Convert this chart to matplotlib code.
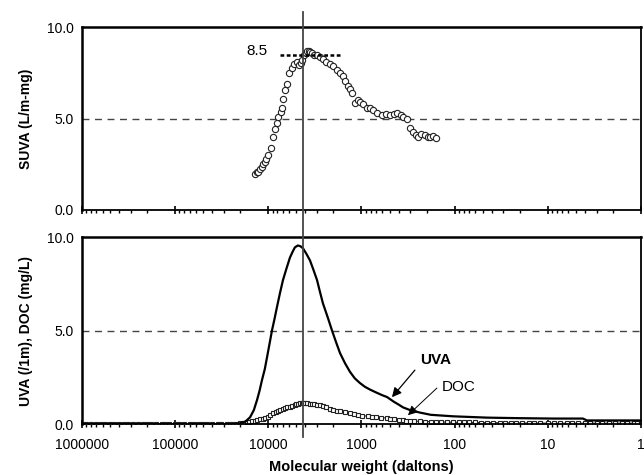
import numpy as np
import matplotlib
matplotlib.use('Agg')
import matplotlib.pyplot as plt
from matplotlib.lines import Line2D
from matplotlib.ticker import FixedLocator, LogLocator, NullFormatter
import matplotlib.transforms as mtransforms

plt.rcParams['font.family'] = ['Liberation Sans', 'DejaVu Sans']

# SUVA (L/m-mg) vs molecular weight
suva_mw = [13900, 13300, 12900, 12300, 11700, 11300, 10900, 10500, 10100, 9380,
           8920, 8490, 8080, 7880, 7310, 7130, 6960, 6620, 6310, 6000,
           5570, 5310, 4920, 4690, 4500, 4350, 4140, 3980, 3850, 3700,
           3570, 3400, 3200, 3000, 2790, 2600, 2400, 2180, 2000, 1830,
           1700, 1580, 1490, 1400, 1330, 1260, 1170, 1100, 1040, 960,
           873, 810, 753, 680, 603, 550, 494, 450, 416, 380,
           359, 325, 302, 280, 262, 248, 228, 208, 195, 184, 170, 158]
suva = [1.95, 2.05, 2.1, 2.25, 2.35, 2.5, 2.6, 2.8, 3.0, 3.4,
        4.0, 4.4, 4.75, 5.1, 5.35, 5.6, 6.05, 6.55, 6.9, 7.5,
        7.75, 8.0, 8.1, 7.9, 8.05, 8.2, 8.5, 8.6, 8.7, 8.7,
        8.65, 8.6, 8.5, 8.45, 8.35, 8.25, 8.1, 8.0, 7.85, 7.65,
        7.5, 7.3, 7.05, 6.8, 6.6, 6.4, 5.85, 6.0, 5.9, 5.8,
        5.6, 5.55, 5.45, 5.3, 5.2, 5.25, 5.2, 5.25, 5.3, 5.2,
        5.1, 4.95, 4.5, 4.25, 4.1, 4.0, 4.15, 4.1, 4.0, 4.0, 4.05, 3.95]

# UVA (/1m)
uva_mw = [1000000, 300000, 100000, 40000, 24000, 20100, 17500, 15700, 14300, 13200,
          12400, 11700, 10900, 10300, 9700, 9140, 8600, 8080, 7500, 6960,
          6400, 5860, 5500, 5180, 4810, 4500, 4250, 3900, 3570, 3280,
          3000, 2800, 2590, 2300, 2070, 1880, 1700, 1500, 1330, 1180,
          1040, 920, 811, 700, 600, 532, 450, 400, 359, 300,
          236, 180, 104, 45, 20, 8.8, 4.2, 3.8, 1]
uva = [0, 0, 0, 0, 0, 0.05, 0.15, 0.37, 0.75, 1.3,
       1.8, 2.35, 2.95, 3.6, 4.3, 5.0, 5.6, 6.25, 7.0, 7.7,
       8.3, 8.9, 9.2, 9.45, 9.55, 9.5, 9.4, 9.1, 8.75, 8.25,
       7.7, 7.1, 6.45, 5.7, 5.0, 4.4, 3.8, 3.25, 2.8, 2.45,
       2.2, 2.0, 1.85, 1.7, 1.55, 1.45, 1.2, 1.05, 0.9, 0.75,
       0.62, 0.5, 0.42, 0.35, 0.32, 0.3, 0.3, 0.2, 0.2]

# DOC (mg/L)
doc_mw = [1000000, 900000, 800000, 700000, 630000, 560000, 500000, 450000, 400000, 350000,
          320000, 280000, 250000, 220000, 200000, 180000, 160000, 140000, 130000, 115000,
          100000, 90000, 80000, 70000, 63000, 56000, 50000, 45000, 40000, 35000,
          32000, 28000, 26000,
          23900, 22000, 20100, 18500, 17000, 16000, 15000, 14000, 13200, 12300,
          11500, 10800, 10200, 9500, 8920, 8300, 7800, 7400, 7000, 6600,
          6310, 5900, 5600, 5200, 5000, 4810, 4600, 4400, 4200, 4000,
          3800, 3570, 3400, 3200, 3000, 2790, 2600, 2400, 2200, 2020,
          1850, 1700, 1500, 1330, 1200, 1100, 980, 851, 780, 700,
          620, 532, 490, 450, 400, 359, 330, 300, 270, 236,
          210, 180, 160, 140, 120, 104, 90, 80, 70, 60,
          52, 45, 39, 33, 29, 25, 22, 19, 16, 14,
          12, 10, 8.5, 7.4, 6.3, 5.5, 4.7, 4, 3.5, 3,
          2.6, 2.2, 1.9, 1.6, 1.4, 1.2, 1.1, 1]
doc = [0, 0, 0, 0, 0, 0, 0, 0, 0, 0,
       0, 0, 0, 0, 0, 0, 0, 0, 0, 0,
       0, 0, 0, 0, 0, 0, 0, 0, 0, 0,
       0, 0, 0,
       0.02, 0.03, 0.05, 0.07, 0.1, 0.12, 0.15, 0.17, 0.2, 0.25,
       0.3, 0.35, 0.4, 0.5, 0.6, 0.65, 0.7, 0.75, 0.8, 0.85,
       0.9, 0.93, 0.97, 1.02, 1.06, 1.1, 1.11, 1.12, 1.12, 1.12,
       1.11, 1.1, 1.09, 1.07, 1.04, 1.0, 0.95, 0.9, 0.82, 0.75,
       0.71, 0.68, 0.64, 0.6, 0.55, 0.5, 0.46, 0.42, 0.4, 0.37,
       0.35, 0.33, 0.3, 0.28, 0.24, 0.2, 0.18, 0.17, 0.16, 0.15,
       0.14, 0.13, 0.125, 0.12, 0.11, 0.1, 0.1, 0.1, 0.095, 0.09,
       0.085, 0.08, 0.075, 0.07, 0.07, 0.07, 0.065, 0.06, 0.06, 0.06,
       0.055, 0.05, 0.05, 0.05, 0.05, 0.05, 0.05, 0.05, 0.05, 0.05,
       0.05, 0.05, 0.05, 0.05, 0.05, 0.05, 0.05, 0.05]
assert len(doc_mw) == len(doc) and len(uva_mw) == len(uva) and len(suva_mw) == len(suva)

peak_mw = 4200
suva_peak = 8.5
xticks = [1000000, 100000, 10000, 1000, 100, 10, 1]
xticklabels = ['1000000', '100000', '10000', '1000', '100', '10', '1']

fig = plt.figure(figsize=(6.44, 4.75), dpi=100)
ax1 = fig.add_axes([0.1273, 0.558, 0.868, 0.385])
ax2 = fig.add_axes([0.1273, 0.107, 0.868, 0.394])

for ax in (ax1, ax2):
    ax.set_xscale('log')
    ax.set_xlim(1000000, 1)
    ax.set_ylim(0, 10)
    ax.set_yticks([0, 5, 10])
    ax.set_yticklabels(['0.0', '5.0', '10.0'])
    ax.axhline(5, color='#444444', ls=(0, (5, 4)), lw=1.0)
    ax.xaxis.set_major_locator(FixedLocator(xticks))
    ax.xaxis.set_minor_locator(LogLocator(base=10, subs=np.arange(2, 10), numticks=20))
    ax.xaxis.set_minor_formatter(NullFormatter())
    ax.tick_params(axis='x', which='major', direction='inout', length=6, width=1.2, pad=7)
    ax.tick_params(axis='x', which='minor', direction='out', length=2.5, width=1)
    ax.tick_params(axis='y', direction='in', length=0, labelsize=10, pad=6)
    ax.tick_params(axis='x', labelsize=10)
    for s in ax.spines.values():
        s.set_linewidth(1.3)
    ax.spines['left'].set_linewidth(1.8)
    ax.spines['top'].set_linewidth(1.8)

ax1.tick_params(axis='x', labelbottom=False)
ax2.set_xticklabels(xticklabels)

# top panel
ax1.plot(suva_mw, suva, 'o', ms=4.5, mfc='white', mec='#222222', mew=0.8)
ax1.plot([7400, 1700], [suva_peak, suva_peak], color='black', ls=(0, (1.5, 1)), lw=1.8)
ax1.text(10100, suva_peak + 0.2, '8.5', ha='right', va='center', fontsize=11)
ax1.set_ylabel('SUVA (L/m-mg)', fontsize=10, fontweight='bold', labelpad=10)

# bottom panel
ax2.plot(doc_mw, doc, 's-', ms=3.2, mfc='white', mec='#222222', mew=0.8, color='#222222', lw=0.8)
ax2.plot(uva_mw, uva, color='black', lw=1.6)
ax2.text(236, 3.45, 'UVA', fontsize=11, fontweight='bold', va='center', ha='left')
ax2.text(137, 2.0, 'DOC', fontsize=11, va='center', ha='left')
ax2.annotate('', xy=(471, 1.44), xytext=(267, 2.89),
             arrowprops=dict(arrowstyle='-|>', color='black', lw=0.9, mutation_scale=14,
                             shrinkA=0, shrinkB=0))
ax2.annotate('', xy=(317, 0.48), xytext=(155, 1.93),
             arrowprops=dict(arrowstyle='-|>', color='black', lw=0.7, mutation_scale=14,
                             shrinkA=0, shrinkB=0))
ax2.set_ylabel('UVA (/1m), DOC (mg/L)', fontsize=10, fontweight='bold', labelpad=10)
ax2.set_xlabel('Molecular weight (daltons)', fontsize=10.5, fontweight='bold', labelpad=6)

# vertical line through both panels at peak
trans = mtransforms.blended_transform_factory(ax2.transData, fig.transFigure)
fig.add_artist(Line2D([peak_mw, peak_mw], [0.08, 0.975], transform=trans,
                      color='#444444', lw=1.3))

fig.savefig('out.png', dpi=100)
